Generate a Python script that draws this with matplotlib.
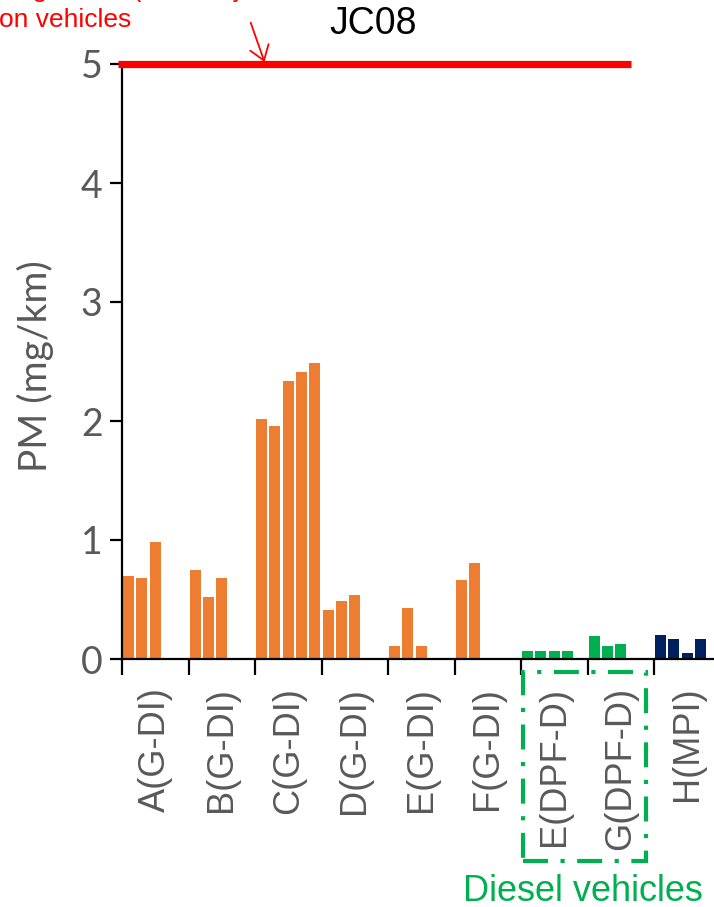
import matplotlib
matplotlib.use("Agg")
import matplotlib.pyplot as plt
from matplotlib.patches import Rectangle, FancyArrowPatch

# ---- data ----
categories = ["A(G-DI)", "B(G-DI)", "C(G-DI)", "D(G-DI)", "E(G-DI)", "F(G-DI)",
              "E(DPF-D)", "G(DPF-D)", "H(MPI)"]
pm_values = [
    [0.70, 0.68, 0.98],
    [0.75, 0.52, 0.68],
    [2.02, 1.96, 2.34, 2.41, 2.49],
    [0.41, 0.49, 0.54],
    [0.11, 0.43, 0.11],
    [0.66, 0.81],
    [0.07, 0.07, 0.07, 0.07],
    [0.19, 0.11, 0.13],
    [0.20, 0.17, 0.05, 0.17],
]
group_type = ["gdi", "gdi", "gdi", "gdi", "gdi", "gdi", "diesel", "diesel", "mpi"]
type_colors = {"gdi": "#ED7D31", "diesel": "#00B050", "mpi": "#002060"}
limit_value = 5.0
y_ticks = [0, 1, 2, 3, 4, 5]

W, H = 714, 907
fig = plt.figure(figsize=(W / 100, H / 100), dpi=100)

def fx(px):
    return px / W

def fy(py):
    return 1 - py / H

cat_px = 66.5
ax = fig.add_axes([fx(122), fy(659), fx(714) - fx(122), fy(64) - fy(659)])
ax.set_xlim(0, (714 - 122) / cat_px)
ax.set_ylim(0, 5)

slot = 0.2
for i, (vals, t) in enumerate(zip(pm_values, group_type)):
    xs = [i + (k + 0.5) * slot for k in range(len(vals))]
    ax.bar(xs, vals, width=slot * 0.82, color=type_colors[t], edgecolor="none", zorder=2)

# limit line
ax.plot([-0.06, 7.65], [limit_value, limit_value], color="#FF0000", lw=5.2,
        solid_capstyle="butt", clip_on=False, zorder=5)

for s in ["top", "right"]:
    ax.spines[s].set_visible(False)
for s in ["left", "bottom"]:
    ax.spines[s].set_linewidth(1.6)
    ax.spines[s].set_color("black")

gray = "#595959"
ax.set_yticks(y_ticks)
ax.set_yticklabels([str(v) for v in y_ticks], fontfamily="Lato", fontsize=27, color=gray)
ax.tick_params(axis="y", direction="out", length=9, width=1.6, pad=5, colors="black",
               labelcolor=gray)

ax.set_xticks(range(0, 9))
ax.set_xticklabels([])
ax.tick_params(axis="x", which="major", direction="out", length=11.5, width=1.6, colors="black")
ax.set_xticks([i + 0.5 for i in range(len(categories))], minor=True)
ax.set_xticklabels(categories, minor=True, rotation=90, fontfamily="Liberation Sans",
                   fontsize=26, color=gray, ha="center", va="top")
ax.tick_params(axis="x", which="minor", length=0, pad=20)

# y label
fig.text(fx(35), fy(366), "PM (mg/km)", rotation=90, ha="center", va="center",
         fontfamily="Lato", fontsize=28, color=gray)

# title-like label
fig.text(fx(373), fy(24), "JC08", ha="center", va="center",
         fontfamily="Liberation Sans", fontsize=27, color="black")

# red annotation text (first line cut off at the top)
fig.text(fx(-1), fy(-3), "Regulation (direct injecti", ha="left", va="baseline",
         fontfamily="Liberation Sans", fontsize=19, color="#FF0000")
fig.text(fx(-1), fy(27), "on vehicles", ha="left", va="baseline",
         fontfamily="Liberation Sans", fontsize=19, color="#FF0000")

arrow = FancyArrowPatch((fx(250.7), fy(22.7)), (fx(264.5), fy(62)),
                        transform=fig.transFigure,
                        arrowstyle="->,head_length=0.5,head_width=0.35",
                        mutation_scale=20, color="#FF0000", lw=1.3, shrinkA=0, shrinkB=0)
fig.patches.append(arrow)

# diesel box
rect = Rectangle((fx(522.5), fy(860.5)), fx(646) - fx(522.5), fy(672) - fy(860.5),
                 transform=fig.transFigure, fill=False, edgecolor="#00B050", lw=3,
                 linestyle=(0, (6, 3, 1, 3)))
fig.patches.append(rect)
fig.text(fx(583), fy(901), "Diesel vehicles", ha="center", va="baseline",
         fontfamily="Liberation Sans", fontsize=26, color="#00B050")

fig.savefig("out.png", dpi=100)
